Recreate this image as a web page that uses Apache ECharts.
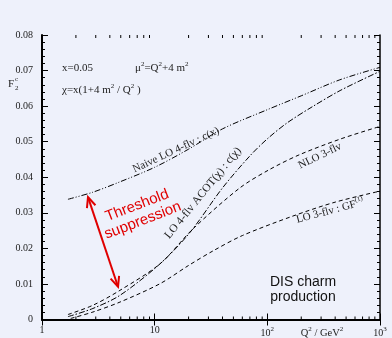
<!DOCTYPE html>
<html><head><meta charset="utf-8">
<script src="https://cdn.jsdelivr.net/npm/echarts@6/dist/echarts.min.js"></script>
<style>html,body{margin:0;padding:0;background:#eef1fb;} #c{width:392px;height:338px;}</style>
</head><body><div id="c"></div>
<script>
// ---- data (Q^2 in GeV^2, F2c) ----
const naiveQ2 = [1.7, 2.83, 5, 10, 20, 40, 100, 200, 440, 1000];
const naiveF  = [0.0338, 0.0358, 0.0388, 0.0428, 0.0479, 0.0536, 0.0590, 0.0629, 0.0674, 0.0709];
const acotQ2 = [1.7, 2.83, 4.92, 11.2, 20.6, 40, 70, 100, 150, 250, 450, 1000];
const acotF  = [0.0008, 0.0031, 0.0068, 0.0157, 0.0245, 0.0370, 0.0460, 0.0508, 0.0553, 0.0598, 0.0645, 0.0698];
const nloQ2 = [1.7, 2.83, 4.92, 11.2, 21.9, 57, 105, 195, 450, 1000];
const nloF  = [0.0014, 0.0040, 0.0082, 0.0157, 0.0255, 0.0370, 0.0422, 0.0464, 0.0508, 0.0543];
const lo3Q2 = [1.8, 2.83, 4.92, 11.2, 20, 33, 60, 169, 400, 1000];
const lo3F  = [0.0003, 0.0021, 0.0049, 0.0101, 0.0152, 0.0193, 0.0236, 0.0291, 0.0330, 0.0361];
const xMinorTicks = [2,3,4,5,6,7,8,9,20,30,40,50,60,70,80,90,200,300,400,500,600,700,800,900];
const xTickLabels = {1:'1', 10:'10', 100:'10{s|2}', 1000:'10{s|3}'};
const arrowStart = [2.56, 0.0344];
const arrowEnd = [4.73, 0.0092];

const SERIF = '"Liberation Serif", "DejaVu Serif", serif';
const SANS = '"Liberation Sans", Arial, sans-serif';
const pairs = (xs, ys) => xs.map((x, i) => [x, ys[i]]);

const chart = echarts.init(document.getElementById('c'));
const xCommon = {
  type: 'log', logBase: 10, min: 1, max: 1000,
  splitLine: {show: false},
  axisTick: {show: true, inside: true, length: 6, lineStyle: {color: '#000', width: 1}},
};
const yCommon = {
  type: 'value', min: 0, max: 0.08, interval: 0.01,
  splitLine: {show: false},
  axisTick: {show: true, inside: true, length: 6, lineStyle: {color: '#000', width: 1}},
  minorTick: {show: true, splitNumber: 5, length: 3, lineStyle: {color: '#000', width: 1}},
  minorSplitLine: {show: false}
};
const curve = (name, d, type) => ({
  name, type: 'line', data: d, showSymbol: false, smooth: 0.3,
  lineStyle: {color: '#000', width: 1, type: type}, silent: true, z: 3
});

const option = {
  backgroundColor: '#eef1fb',
  animation: false,
  grid: {left: 42, right: 12, top: 35, bottom: 17},
  xAxis: [
    Object.assign({}, xCommon, {
      position: 'bottom',
      axisLine: {show: true, lineStyle: {color: '#000', width: 2}},
      axisLabel: {
        show: true, margin: 6, color: '#222', fontFamily: SERIF, fontSize: 10,
        formatter: v => xTickLabels[Math.round(v)] || '',
        rich: {s: {fontSize: 7, fontFamily: SERIF, color: '#222', padding: [0, 0, 8, 0]}}
      }
    }),
    Object.assign({}, xCommon, {
      position: 'top',
      axisLine: {show: true, lineStyle: {color: '#000', width: 1.5}},
      axisLabel: {show: false}
    })
  ],
  yAxis: [
    Object.assign({}, yCommon, {
      position: 'left',
      axisLine: {show: true, lineStyle: {color: '#000', width: 2}},
      axisLabel: {show: true, margin: 9, color: '#222', fontFamily: SERIF, fontSize: 10,
        formatter: v => v === 0 ? '0' : v.toFixed(2)}
    }),
    Object.assign({}, yCommon, {
      position: 'right',
      axisLine: {show: true, lineStyle: {color: '#000', width: 1.5}},
      axisLabel: {show: false}
    })
  ],
  series: [
    curve('naive', pairs(naiveQ2, naiveF), [6, 2, 1, 2, 1, 2]),
    curve('acot', pairs(acotQ2, acotF), [6, 2, 1.5, 2]),
    curve('nlo', pairs(nloQ2, nloF), [4, 3]),
    curve('lo3', pairs(lo3Q2, lo3F), [4, 3]),
    {
      type: 'custom', silent: true, clip: false, z: 5,
      data: xMinorTicks.map(v => [v, 0]),
      renderItem: (params, api) => {
        const p = api.coord([api.value(0), 0]);
        const cs = params.coordSys;
        const yb = cs.y + cs.height, yt = cs.y;
        return {type: 'group', children: [
          {type: 'line', shape: {x1: p[0], y1: yb, x2: p[0], y2: yb - 3}, style: {stroke: '#000', lineWidth: 1}},
          {type: 'line', shape: {x1: p[0], y1: yt, x2: p[0], y2: yt + 3}, style: {stroke: '#000', lineWidth: 1}}
        ]};
      }
    },
    {
      type: 'custom', silent: true, clip: false, z: 6,
      data: [[arrowStart[0], arrowStart[1], arrowEnd[0], arrowEnd[1]]],
      renderItem: (params, api) => {
        const a = api.coord([api.value(0), api.value(1)]);
        const b = api.coord([api.value(2), api.value(3)]);
        const ang = Math.atan2(b[1] - a[1], b[0] - a[0]);
        const L = 11, h = 0.42;
        const head = (tip, dir) => [
          [tip[0] - L * Math.cos(dir - h), tip[1] - L * Math.sin(dir - h)],
          tip,
          [tip[0] - L * Math.cos(dir + h), tip[1] - L * Math.sin(dir + h)]
        ];
        const st = {stroke: '#e00000', lineWidth: 2, fill: null};
        return {type: 'group', children: [
          {type: 'line', shape: {x1: a[0], y1: a[1], x2: b[0], y2: b[1]}, style: st},
          {type: 'polyline', shape: {points: head(b, ang)}, style: st},
          {type: 'polyline', shape: {points: head(a, ang + Math.PI)}, style: st}
        ]};
      }
    }
  ],
  graphic: [
    {type: 'text', x: 8, y: 84, style: {text: 'F', font: '11px ' + SERIF, fill: '#222', verticalAlign: 'middle'}},
    {type: 'text', x: 15, y: 79, style: {text: 'c', font: '7px ' + SERIF, fill: '#222', verticalAlign: 'middle'}},
    {type: 'text', x: 15, y: 88.5, style: {text: '2', font: '7px ' + SERIF, fill: '#222', verticalAlign: 'middle'}},
    {type: 'text', x: 62, y: 68, style: {text: 'x=0.05', font: '11px ' + SERIF, fill: '#222', verticalAlign: 'middle'}},
    {type: 'text', x: 135, y: 68, style: {text: 'μ{s|2}=Q{s|2}+4 m{s|2}', font: '11px ' + SERIF, fill: '#222', verticalAlign: 'middle',
      rich: {s: {font: '7px ' + SERIF, fill: '#222', padding: [0, 0, 8, 0]}}}},
    {type: 'text', x: 62, y: 90, style: {text: 'χ=x(1+4 m{s|2} / Q{s|2} )', font: '11px ' + SERIF, fill: '#222', verticalAlign: 'middle',
      rich: {s: {font: '7px ' + SERIF, fill: '#222', padding: [0, 0, 8, 0]}}}},
    {type: 'text', x: 176, y: 150, rotation: 25 * Math.PI / 180,
      style: {text: 'Naive LO 4-flv : c(x)', font: '11px ' + SERIF, fill: '#222', align: 'center', verticalAlign: 'middle'}},
    {type: 'text', x: 203, y: 193, rotation: 51 * Math.PI / 180,
      style: {text: 'LO 4-flv ACOT(χ) : c(χ)', font: '11.5px ' + SERIF, fill: '#222', align: 'center', verticalAlign: 'middle'}},
    {type: 'text', x: 320, y: 156, rotation: 26 * Math.PI / 180,
      style: {text: 'NLO 3-flv', font: '11px ' + SERIF, fill: '#222', align: 'center', verticalAlign: 'middle'}},
    {type: 'text', x: 330, y: 211, rotation: 15 * Math.PI / 180,
      style: {text: 'LO 3-flv : GF{s|(1)}', font: '11px ' + SERIF, fill: '#222', align: 'center', verticalAlign: 'middle',
        rich: {s: {font: '7px ' + SERIF, fill: '#222', padding: [0, 0, 8, 0]}}}},
    {type: 'text', x: 140, y: 213, rotation: 21 * Math.PI / 180,
      style: {text: 'Threshold\nsuppression', font: '15px ' + SANS, fill: '#e00000', align: 'center', verticalAlign: 'middle', lineHeight: 16}},
    {type: 'text', x: 303, y: 290, style: {text: 'DIS charm\nproduction', font: '14px ' + SANS, fill: '#111', align: 'center', verticalAlign: 'middle', lineHeight: 15}},
    {type: 'text', x: 322, y: 333, style: {text: 'Q{s|2} / GeV{s|2}', font: '10.5px ' + SERIF, fill: '#222', align: 'center', verticalAlign: 'middle',
      rich: {s: {font: '7px ' + SERIF, fill: '#222', padding: [0, 0, 8, 0]}}}}
  ]
};
chart.setOption(option);
</script></body></html>
